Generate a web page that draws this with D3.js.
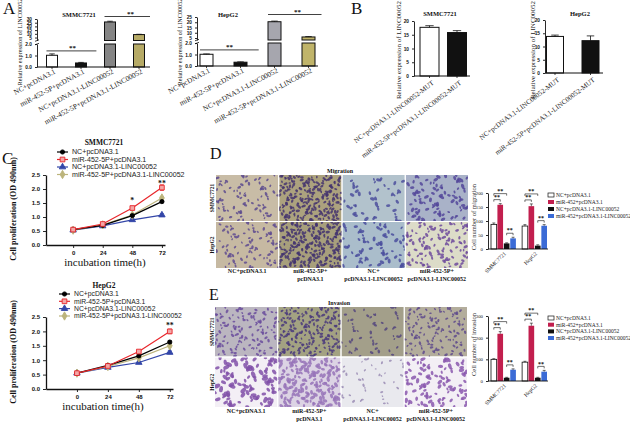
<!DOCTYPE html>
<html>
<head>
<meta charset="utf-8">
<script src="https://cdn.jsdelivr.net/npm/d3@7"></script>
<style>
  body { margin: 0; background: #fff; }
  svg { display: block; }
</style>
</head>
<body>
<svg id="fig" width="630" height="430"></svg>
<script>
// ---- data ----
const groupsA = ["NC+pcDNA3.1", "miR-452-5P+pcDNA3.1", "NC+pcDNA3.1-LINC00052", "miR-452-5P+pcDNA3.1-LINC00052"];
const smmcA = [1.02, 0.35, 26.0, 9.0];
const smmcAErr = [0.12, 0.05, 1.0, 0.4];
const hepA = [1.02, 0.33, 20.5, 6.0];
const hepAErr = [0.03, 0.03, 0.6, 0.4];

const groupsB = ["NC+pcDNA3.1-LINC00052-MUT", "miR-452-5P+pcDNA3.1-LINC00052-MUT"];
const smmcB = [17.7, 15.8];
const smmcBErr = [0.6, 0.7];
const hepB = [13.8, 12.2];
const hepBErr = [0.5, 1.8];

const hours = [0, 24, 48, 72];
const seriesC = ["NC+pcDNA3.1", "miR-452-5P+pcDNA3.1", "NC+pcDNA3.1-LINC00052", "miR-452-5P+pcDNA3.1-LINC00052"];
const smmcC = [[0.55, 0.70, 1.05, 1.55], [0.55, 0.75, 1.32, 2.05], [0.53, 0.68, 0.90, 1.07], [0.53, 0.72, 1.07, 1.68]];
const smmcCErr = [[0.02, 0.03, 0.03, 0.04], [0.02, 0.03, 0.06, 0.10], [0.02, 0.02, 0.03, 0.04], [0.02, 0.02, 0.03, 0.05]];
const hepC = [[0.55, 0.82, 1.15, 1.63], [0.55, 0.80, 1.30, 2.00], [0.55, 0.75, 0.92, 1.27], [0.55, 0.78, 1.08, 1.50]];
const hepCErr = [[0.02, 0.03, 0.03, 0.04], [0.02, 0.03, 0.04, 0.08], [0.02, 0.02, 0.03, 0.05], [0.02, 0.02, 0.03, 0.04]];

const cellLines = ["SMMC7721", "HepG2"];
const treatD = ["NC+pcDNA3.1", "miR-452+pcDNA3.1", "NC+pcDNA3.1-LINC00052", "miR-452+pcDNA3.1-LINC00052"];
const migration = [[88, 158, 20, 38], [82, 153, 12, 83]];
const migrationErr = [[5, 4, 2, 4], [5, 8, 3, 4]];
const invasion = [[100, 218, 15, 52], [87, 255, 15, 43]];
const invasionErr = [[3, 10, 2, 4], [4, 12, 2, 6]];
const captions = [["NC+pcDNA3.1"], ["miR-452-5P+", "pcDNA3.1"], ["NC+", "pcDNA3.1-LINC00052"], ["miR-452-5P+", "pcDNA3.1-LINC00052"]];

// ---- setup ----
const svg = d3.select("#fig");
const defs = svg.append("defs");
const SERIF = "'Liberation Serif','Times New Roman',serif";
const SANS = "'Liberation Sans',Arial,sans-serif";

function txt(g, x, y, s, o = {}) {
  return g.append("text").attr("x", x).attr("y", y).text(s)
    .attr("font-family", o.f || SERIF).attr("font-size", o.s || 6)
    .attr("font-weight", o.w || "normal").attr("text-anchor", o.a || "middle")
    .attr("fill", o.c || "#111")
    .attr("transform", o.r ? `rotate(${o.r},${x},${y})` : null);
}

function styleAxis(a, size, font, weight) {
  a.selectAll("path,line").attr("stroke", "#111").attr("stroke-width", 0.9);
  a.selectAll("text").attr("font-size", size).attr("font-family", font)
    .attr("font-weight", weight || "normal").attr("fill", "#111");
}

// panel letters
txt(svg, 3, 14, "A", { s: 17, a: "start" });
txt(svg, 351, 14, "B", { s: 17, a: "start" });
txt(svg, 2, 164, "C", { s: 17, a: "start" });
txt(svg, 210, 159, "D", { s: 16, a: "start" });
txt(svg, 209, 300, "E", { s: 16, a: "start" });

// ---- A: bars with a broken y axis ----
function panelA(c) {
  const g = svg.append("g");
  const x = d3.scalePoint().domain(groupsA).range(c.xr);
  const yLow = d3.scaleLinear().domain([0, 2]).range([c.base, c.lowTop]);
  const yUp = d3.scaleLinear().domain(c.upDom).range([c.breakTop, c.upTop]);
  const yv = v => v > 2 ? yUp(v) : yLow(v);
  const bw = c.bw;
  const data = groupsA.map((k, i) => ({ k, v: c.vals[i], e: c.err[i], col: c.colors[i] }));

  g.selectAll(".lo").data(data).join("rect")
    .attr("x", d => x(d.k) - bw / 2).attr("width", bw)
    .attr("y", d => yLow(Math.min(d.v, 2)))
    .attr("height", d => c.base - yLow(Math.min(d.v, 2)))
    .attr("fill", d => d.col).attr("stroke", "#111").attr("stroke-width", 1);
  g.selectAll(".up").data(data.filter(d => d.v > 2)).join("rect")
    .attr("x", d => x(d.k) - bw / 2).attr("width", bw)
    .attr("y", d => yUp(d.v)).attr("height", d => c.breakTop - yUp(d.v))
    .attr("fill", d => d.col).attr("stroke", "#111").attr("stroke-width", 1);
  // error bars
  g.selectAll(".eb").data(data).join("path")
    .attr("d", d => `M${x(d.k)},${yv(d.v)}V${yv(d.v + d.e)}M${x(d.k) - bw * 0.25},${yv(d.v + d.e)}H${x(d.k) + bw * 0.25}`)
    .attr("stroke", "#111").attr("stroke-width", 0.8).attr("fill", "none");

  const aLow = g.append("g").attr("transform", `translate(${c.ax},0)`)
    .call(d3.axisLeft(yLow).tickValues([0, 1, 2]).tickSize(2).tickSizeOuter(0));
  const aUp = g.append("g").attr("transform", `translate(${c.ax},0)`)
    .call(d3.axisLeft(yUp).tickValues(c.upTicks).tickSize(2).tickSizeOuter(0));
  styleAxis(aLow, 4.8, SANS, "bold");
  styleAxis(aUp, 4.8, SANS, "bold");
  // break marks on the axis
  g.append("path")
    .attr("d", `M${c.ax - 2},${c.breakTop + 0.8}l4,-1.5M${c.ax - 2},${c.lowTop + 0.8}l4,-1.5`)
    .attr("stroke", "#111").attr("stroke-width", 0.8);

  // x axis
  g.append("line").attr("x1", c.ax).attr("x2", c.xEnd).attr("y1", c.base).attr("y2", c.base)
    .attr("stroke", "#111").attr("stroke-width", 1);
  g.selectAll(".xt").data(groupsA).join("line")
    .attr("x1", d => x(d)).attr("x2", d => x(d)).attr("y1", c.base).attr("y2", c.base + 2)
    .attr("stroke", "#111").attr("stroke-width", 0.8);
  groupsA.forEach(k => txt(g, x(k) + 4, c.base + 6, k, { s: 7.3, a: "end", r: -28, c: "#222" }));

  // significance
  const y1 = yLow(1.4);
  g.append("line").attr("x1", x(groupsA[0]) - bw / 2).attr("x2", x(groupsA[1]) + bw * 1.4)
    .attr("y1", y1).attr("y2", y1).attr("stroke", "#111").attr("stroke-width", 0.8);
  txt(g, (x(groupsA[0]) + x(groupsA[1])) / 2 + 6, y1 - 1, "**", { s: 7, w: "bold" });
  const y2 = c.upTop - 2.5;
  g.append("line").attr("x1", x(groupsA[2]) - bw / 2).attr("x2", x(groupsA[3]) + bw)
    .attr("y1", y2).attr("y2", y2).attr("stroke", "#111").attr("stroke-width", 0.8);
  txt(g, (x(groupsA[2]) + x(groupsA[3])) / 2 + 6, y2 - 1, "**", { s: 7, w: "bold" });

  txt(g, c.tx, 17, c.title, { s: 6.5, w: "bold" });
  txt(g, c.ylx, 42, "Relative expression of LINC00052", { s: 6.2, r: -90 });
}

panelA({
  title: "SMMC7721", tx: 79, ax: 37, xr: [52, 139], bw: 11, xEnd: 150,
  base: 67, lowTop: 44, breakTop: 40.5, upTop: 19, upDom: [1, 30], upTicks: [5, 10, 15, 20, 25, 30],
  vals: smmcA, err: smmcAErr, colors: ["#ffffff", "#111111", "#858585", "#b6aa66"], ylx: 22
});
panelA({
  title: "HepG2", tx: 228, ax: 197, xr: [206.5, 308.5], bw: 13, xEnd: 318,
  base: 66, lowTop: 43, breakTop: 40, upTop: 17, upDom: [3.1, 25], upTicks: [5, 10, 15, 20, 25],
  vals: hepA, err: hepAErr, colors: ["#ffffff", "#111111", "#a6a6ae", "#c0b46a"], ylx: 182
});

// ---- B: MUT bars ----
function panelB(c) {
  const g = svg.append("g");
  const x = d3.scalePoint().domain(groupsB).range(c.xr);
  const y = d3.scaleLinear().domain([0, 20]).range([c.base, c.top]);
  const data = groupsB.map((k, i) => ({ k, v: c.vals[i], e: c.err[i], col: i ? "#111" : "#fff" }));
  g.selectAll("rect").data(data).join("rect")
    .attr("x", d => x(d.k) - c.bw / 2).attr("width", c.bw)
    .attr("y", d => y(d.v)).attr("height", d => c.base - y(d.v))
    .attr("fill", d => d.col).attr("stroke", "#111").attr("stroke-width", 1);
  g.selectAll(".eb").data(data).join("path")
    .attr("d", d => `M${x(d.k)},${y(d.v)}V${y(d.v + d.e)}M${x(d.k) - c.bw * 0.22},${y(d.v + d.e)}H${x(d.k) + c.bw * 0.22}`)
    .attr("stroke", "#111").attr("stroke-width", 0.8).attr("fill", "none");
  const a = g.append("g").attr("transform", `translate(${c.ax},0)`)
    .call(d3.axisLeft(y).tickValues([0, 5, 10, 15, 20]).tickSize(2).tickSizeOuter(0));
  styleAxis(a, 4.8, SANS, "bold");
  g.append("line").attr("x1", c.ax).attr("x2", c.xEnd).attr("y1", c.base).attr("y2", c.base)
    .attr("stroke", "#111").attr("stroke-width", 1);
  g.selectAll(".xt").data(groupsB).join("line")
    .attr("x1", d => x(d)).attr("x2", d => x(d)).attr("y1", c.base).attr("y2", c.base + 2)
    .attr("stroke", "#111").attr("stroke-width", 0.8);
  groupsB.forEach(k => txt(g, x(k) + 5, c.base + 8, k, { s: 7, a: "end", r: -37, c: "#222" }));
  txt(g, c.tx, 16, c.title, { s: 6.5, w: "bold" });
  txt(g, c.ylx, 50, "Relative expression of LINC00052", { s: 7, r: -90, c: "#222" });
}
panelB({ title: "SMMC7721", tx: 440, ax: 414, xr: [429.5, 457], bw: 19, xEnd: 470, base: 76, top: 21, vals: smmcB, err: smmcBErr, ylx: 401 });
panelB({ title: "HepG2", tx: 580, ax: 545, xr: [555, 590.5], bw: 17, xEnd: 603, base: 73, top: 20, vals: hepB, err: hepBErr, ylx: 535 });

// ---- C: proliferation curves ----
const lineStyles = [
  { col: "#000000", sym: d3.symbolCircle, size: 14, fill: "#000000" },
  { col: "#e8262b", sym: d3.symbolSquare, size: 22, fill: "#f2a7a7" },
  { col: "#3346a8", sym: d3.symbolTriangle, size: 18, fill: "#3346a8" },
  { col: "#bcb47c", sym: d3.symbolDiamond, size: 20, fill: "#bcb47c" }
];

function panelC(c) {
  const g = svg.append("g");
  const x = d3.scaleLinear().domain(c.xd).range([c.left, c.right]);
  const y = d3.scaleLinear().domain([0, 2.5]).range([c.base, c.top]);
  const ay = g.append("g").attr("transform", `translate(${c.left},0)`)
    .call(d3.axisLeft(y).tickValues([0, 0.5, 1, 1.5, 2, 2.5]).tickFormat(d3.format(".1f")).tickSize(3).tickSizeOuter(0));
  const ax = g.append("g").attr("transform", `translate(0,${c.base})`)
    .call(d3.axisBottom(x).tickValues(hours).tickSize(3).tickSizeOuter(0));
  styleAxis(ay, 6, SANS, "bold");
  styleAxis(ax, 6, SANS, "bold");
  ay.select(".domain").attr("stroke-width", 1.3);
  ax.select(".domain").attr("stroke-width", 1.3);

  const line = d3.line().x((d, i) => x(hours[i])).y(d => y(d));
  [2, 3, 0, 1].forEach(k => {
    const st = lineStyles[k];
    g.append("path").datum(c.vals[k]).attr("d", line)
      .attr("fill", "none").attr("stroke", st.col).attr("stroke-width", 1.2);
    g.selectAll(null).data(c.vals[k]).join("path")
      .attr("d", (d, i) => {
        const e = c.err[k][i], xx = x(hours[i]);
        return `M${xx},${y(d - e)}V${y(d + e)}M${xx - 2},${y(d + e)}H${xx + 2}M${xx - 2},${y(d - e)}H${xx + 2}`;
      })
      .attr("stroke", st.col).attr("stroke-width", 0.8).attr("fill", "none");
    g.selectAll(null).data(c.vals[k]).join("path")
      .attr("d", d3.symbol(st.sym, st.size))
      .attr("transform", (d, i) => `translate(${x(hours[i])},${y(d)})`)
      .attr("fill", st.fill).attr("stroke", st.col).attr("stroke-width", 0.9);
  });
  c.stars.forEach(s => txt(g, x(s.h), y(s.v), s.t, { s: 7.8, w: "bold", c: "#111" }));

  // legend
  seriesC.forEach((name, k) => {
    const st = lineStyles[k], yy = c.legY[k], lx = c.legX;
    g.append("line").attr("x1", lx).attr("x2", lx + 11).attr("y1", yy).attr("y2", yy)
      .attr("stroke", st.col).attr("stroke-width", 1.2);
    g.append("path").attr("d", d3.symbol(st.sym, st.size)).attr("transform", `translate(${lx + 5.5},${yy})`)
      .attr("fill", st.fill).attr("stroke", st.col).attr("stroke-width", 0.9);
    txt(g, lx + 15, yy + 2.4, name, { f: SANS, s: c.legS, a: "start", c: "#222" });
  });
  txt(g, 104, c.titleY, c.title, { s: 7.5, w: "bold" });
  txt(g, c.xtx, c.base + 21, "incubation time(h)", { s: 11 });
  txt(g, 16, (c.base + c.top) / 2 - 1, "Cell proliferation (OD 490nm)", { s: 8, w: "bold", r: -90 });
}
panelC({
  title: "SMMC7721", titleY: 145, xd: [-22, 74.5], left: 46, right: 165, base: 245, top: 175,
  vals: smmcC, err: smmcCErr, legX: 57, legY: [152, 159.5, 167, 174.5], legS: 7.1, xtx: 105,
  stars: [{ h: 48, v: 1.5, t: "*" }, { h: 72, v: 2.1, t: "**" }]
});
panelC({
  title: "HepG2", titleY: 287.5, xd: [-24, 74.5], left: 46, right: 173, base: 389, top: 317,
  vals: hepC, err: hepCErr, legX: 59, legY: [294, 301.3, 308.6, 316], legS: 6.8, xtx: 103,
  stars: [{ h: 72, v: 2.12, t: "**" }]
});

// ---- D / E: micrograph grids ----
let clipN = 0;
const frac = v => v - Math.floor(v);
function micrograph(g, x, y, w, h, spec, seed) {
  const id = "clip" + (clipN++);
  defs.append("clipPath").attr("id", id).append("rect")
    .attr("x", x).attr("y", y).attr("width", w).attr("height", h);
  const cg = g.append("g").attr("clip-path", `url(#${id})`);
  cg.append("rect").attr("x", x).attr("y", y).attr("width", w).attr("height", h).attr("fill", spec.bg);
  const cells = d3.range(spec.n).map(i => {
    const cx = x + w * frac(seed * 0.37 + i * 0.7548776662 + 0.08 * Math.sin(i * 1.7));
    const cy = y + h * frac(seed * 0.61 + i * 0.5698402910 + 0.08 * Math.cos(i * 2.3));
    const s = 0.7 + 0.6 * frac(i * 0.381966);
    return { cx, cy, rx: spec.r * s, ry: spec.r * s * 0.62, a: 180 * frac(i * 0.4142136) };
  });
  cg.selectAll("ellipse").data(cells).join("ellipse")
    .attr("cx", d => d.cx).attr("cy", d => d.cy).attr("rx", d => d.rx).attr("ry", d => d.ry)
    .attr("transform", d => `rotate(${d.a},${d.cx},${d.cy})`)
    .attr("fill", spec.cell).attr("opacity", 0.85);
}

function imageGrid(c) {
  const g = svg.append("g");
  const col = d3.scaleBand().domain(d3.range(4)).range(c.xr).paddingInner(0.015);
  const row = d3.scaleBand().domain(cellLines).range(c.yr).paddingInner(0.02);
  cellLines.forEach((cl, r) => {
    d3.range(4).forEach(k => micrograph(g, col(k), row(cl), col.bandwidth(), row.bandwidth(), c.specs[r][k], r * 4 + k + c.seed));
    txt(g, 214, row(cl) + row.bandwidth() / 2, cl, { s: 5.5, w: "bold", r: -90 });
  });
  captions.forEach((lines, k) => lines.forEach((t, j) =>
    txt(g, col(k) + col.bandwidth() / 2, c.capY + j * 7.5, t, { s: 6, w: "bold" })));
  txt(g, (c.xr[0] + c.xr[1]) / 2 - 2, c.yr[0] - 2, c.title, { s: 6, w: "bold" });
}

imageGrid({
  title: "Migration", xr: [216, 468], yr: [175, 268], capY: 273, seed: 0,
  specs: [
    [{ bg: "#c8bca6", cell: "#5c4a8e", n: 80, r: 1.6 }, { bg: "#aca27e", cell: "#45356e", n: 220, r: 1.7 },
     { bg: "#b2c2cc", cell: "#4c4f9c", n: 45, r: 2.0 }, { bg: "#a9b2c8", cell: "#54479a", n: 90, r: 2.0 }],
    [{ bg: "#c6b9a2", cell: "#5f4b90", n: 85, r: 1.6 }, { bg: "#a79f7c", cell: "#433470", n: 240, r: 1.7 },
     { bg: "#aabdcb", cell: "#4a4e9e", n: 70, r: 2.0 }, { bg: "#dcdcc8", cell: "#6d4a9c", n: 110, r: 1.8 }]
  ]
});
imageGrid({
  title: "Invasion", xr: [215, 467], yr: [307, 407], capY: 413, seed: 9,
  specs: [
    [{ bg: "#bbb6c0", cell: "#6a4c9c", n: 120, r: 1.6 }, { bg: "#a3a282", cell: "#4a3a7c", n: 190, r: 1.6 },
     { bg: "#a39f8a", cell: "#55467e", n: 50, r: 1.6 }, { bg: "#b3ad9c", cell: "#5e4a8c", n: 120, r: 1.5 }],
    [{ bg: "#f3eff5", cell: "#8050a8", n: 95, r: 2.6 }, { bg: "#dcd3e4", cell: "#9673b8", n: 170, r: 2.2 },
     { bg: "#e9e9ee", cell: "#9a8cb4", n: 40, r: 1.4 }, { bg: "#f3eff5", cell: "#8a58ae", n: 100, r: 2.2 }]
  ]
});

// ---- D / E: grouped bar charts ----
const barCols = ["#ffffff", "#c21f4e", "#111111", "#3b6bd6"];
function bracket(g, x1, x2, yy) {
  g.append("path").attr("d", `M${x1},${yy + 2}V${yy}H${x2}V${yy + 2}`)
    .attr("fill", "none").attr("stroke", "#111").attr("stroke-width", 0.6);
  txt(g, (x1 + x2) / 2, yy - 0.8, "**", { s: 6, w: "bold" });
}
function barPanel(c) {
  const g = svg.append("g");
  const x0 = d3.scaleBand().domain(cellLines).range([491, 547]).paddingInner(0.2);
  const x1 = d3.scaleBand().domain(treatD).range([0, x0.bandwidth()]).paddingInner(0.12);
  const y = d3.scaleLinear().domain([0, c.max]).range([c.base, c.top]);
  const bw = x1.bandwidth();
  cellLines.forEach((cl, gi) => {
    const data = treatD.map((t, ti) => ({ t, v: c.vals[gi][ti], e: c.err[gi][ti], col: barCols[ti] }));
    const gg = g.append("g").attr("transform", `translate(${x0(cl)},0)`);
    gg.selectAll("rect").data(data).join("rect")
      .attr("x", d => x1(d.t)).attr("width", bw)
      .attr("y", d => y(d.v)).attr("height", d => c.base - y(d.v))
      .attr("fill", d => d.col).attr("stroke", d => d.col === "#ffffff" ? "#111" : "none").attr("stroke-width", 0.8);
    gg.selectAll(".eb").data(data).join("path")
      .attr("d", d => {
        const cx = x1(d.t) + bw / 2;
        return `M${cx},${y(d.v)}V${y(d.v + d.e)}M${cx - 1.5},${y(d.v + d.e)}H${cx + 1.5}`;
      })
      .attr("stroke", "#111").attr("stroke-width", 0.6).attr("fill", "none");
    const mid = t => x1(t) + bw / 2;
    const low = y(data[1].v + data[1].e) - 4;
    bracket(gg, mid(treatD[0]), mid(treatD[1]), low);
    bracket(gg, mid(treatD[0]), mid(treatD[2]), low - 6);
    bracket(gg, mid(treatD[2]), mid(treatD[3]), y(Math.max(data[2].v + data[2].e, data[3].v + data[3].e)) - 4);
    txt(g, x0(cl) + x0.bandwidth() / 2 + 3, c.base + 5, cl, { s: 5.5, a: "end", r: -45, c: "#222" });
  });
  const a = g.append("g").attr("transform", "translate(488,0)")
    .call(d3.axisLeft(y).tickValues(c.ticks).tickSize(2).tickSizeOuter(0));
  styleAxis(a, 4.8, SERIF);
  g.append("line").attr("x1", 488).attr("x2", 548).attr("y1", c.base).attr("y2", c.base)
    .attr("stroke", "#111").attr("stroke-width", 0.9);
  txt(g, 476, (c.base + c.top) / 2 - 4, c.ylab, { s: 6.5, r: -90, c: "#333" });
  treatD.forEach((t, k) => {
    const yy = c.legY[k];
    g.append("rect").attr("x", 548).attr("y", yy - 2).attr("width", 6).attr("height", 4)
      .attr("fill", barCols[k]).attr("stroke", k === 0 ? "#111" : "none").attr("stroke-width", 0.7);
    txt(g, 556, yy + 1.8, t, { s: 5.5, a: "start", c: "#222" });
  });
}
barPanel({ max: 200, base: 249, top: 193, ticks: [0, 50, 100, 150, 200], vals: migration, err: migrationErr,
  ylab: "Cell number of migration", legY: [195, 202, 209, 216] });
barPanel({ max: 300, base: 381, top: 316, ticks: [0, 100, 200, 300], vals: invasion, err: invasionErr,
  ylab: "Cell number of invasion", legY: [318, 324.7, 331.4, 338] });
</script>
</body>
</html>
